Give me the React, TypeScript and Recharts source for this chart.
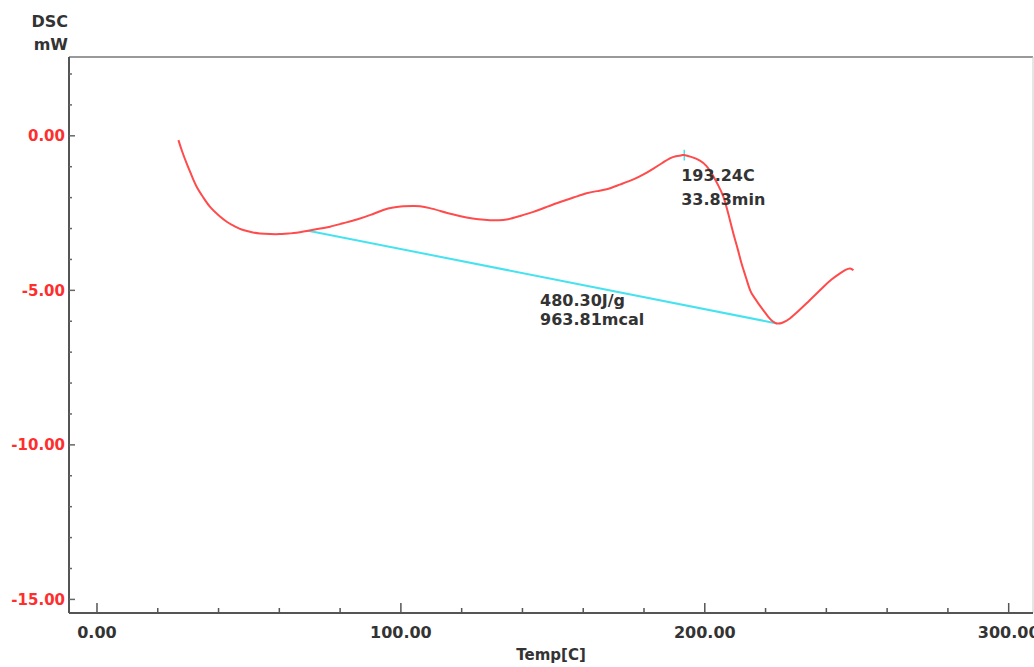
import React from "react";
import {
  LineChart,
  Line,
  XAxis,
  YAxis,
  ReferenceLine,
  ReferenceDot,
} from "recharts";

// ---- data ----
const temps = [
  26.8, 28.0, 29.5, 31.0, 32.8, 35.0, 37.2, 40.0, 42.7, 45.5, 48.1, 51.0, 53.6,
  57.0, 60.2, 63.0, 65.7, 69.5, 73.0, 76.7, 81.0, 85.5, 90.0, 94.2, 97.5, 100.8,
  104.0, 106.3, 109.5, 112.9, 117.0, 121.6, 125.5, 129.3, 132.0, 134.8, 139.0,
  143.6, 148.0, 152.4, 157.0, 161.1, 164.5, 167.7, 172.0, 176.5, 180.0, 183.1,
  186.0, 188.5, 190.5, 192.4, 193.24, 195.5, 198.4, 200.5, 202.3, 204.3, 206.1,
  207.8, 209.4, 210.8, 212.1, 213.5, 214.9, 216.2, 217.6, 219.3, 220.9, 222.3,
  223.7, 225.5, 228.0, 230.7, 233.5, 236.3, 239.0, 241.7, 244.5, 246.3, 247.8,
  248.9,
];
const dsc = [
  -0.14, -0.5, -0.89, -1.25, -1.65, -2.0, -2.3, -2.57, -2.78, -2.94, -3.05,
  -3.12, -3.16, -3.18, -3.18, -3.16, -3.14, -3.07, -3.01, -2.94, -2.83, -2.71,
  -2.56, -2.4, -2.32, -2.28, -2.27, -2.28, -2.34, -2.43, -2.54, -2.64, -2.7,
  -2.73, -2.73, -2.71, -2.6, -2.46, -2.3, -2.14, -1.99, -1.86, -1.79, -1.73,
  -1.58, -1.41, -1.24, -1.06, -0.88, -0.73, -0.66, -0.63, -0.62, -0.68, -0.8,
  -0.97, -1.22, -1.58, -1.97, -2.55, -3.16, -3.65, -4.13, -4.57, -4.99, -5.22,
  -5.42, -5.65, -5.86, -6.0, -6.07, -6.05, -5.91, -5.68, -5.42, -5.15, -4.89,
  -4.65, -4.45, -4.34, -4.29, -4.35,
];
const baselineStart = { t: 69.5, v: -3.07 };
const baselineEnd = { t: 223.7, v: -6.07 };
const peak = { t: 193.24, v: -0.62, markTop: -0.45, markBottom: -0.8 };
const peakLabels = ["193.24C", "33.83min"];
const energyLabels = ["480.30J/g", "963.81mcal"];
const energyAnchor = { t: 145.8, v: -5.51 };

const xTicks = [0, 20, 40, 60, 80, 100, 120, 140, 160, 180, 200, 220, 240, 260, 280, 300];
const yTicks = [-15, -14, -13, -12, -11, -10, -9, -8, -7, -6, -5, -4, -3, -2, -1, 0, 1, 2];
const X_MIN = -9.21;
const X_MAX = 308.0;
const Y_MIN = -15.44;
const Y_MAX = 2.55;

const data = temps.map((t, i) => ({ t, v: dsc[i] }));

const FONT = "DejaVu Sans";

const YTick = (props: any) => {
  const { x, y, payload } = props;
  const v = payload.value;
  const major = v % 5 === 0;
  return (
    <g>
      <line x1={x} y1={y} x2={x + (major ? 6 : 3)} y2={y} stroke="#666" strokeWidth={1.5} />
      {major && (
        <text
          x={x - 4}
          y={y + 5.5}
          textAnchor="end"
          fill="#ff2e2e"
          fontFamily={FONT}
          fontWeight="bold"
          fontSize={15}
        >
          {v.toFixed(2)}
        </text>
      )}
    </g>
  );
};

const XTick = (props: any) => {
  const { x, y, payload } = props;
  const v = payload.value;
  const major = v % 100 === 0;
  return (
    <g>
      <line x1={x} y1={y} x2={x} y2={y - (major ? 10 : 5)} stroke="#555" strokeWidth={1.5} />
      {major && (
        <text
          x={x}
          y={y + 25}
          textAnchor="middle"
          fill="#333"
          fontFamily={FONT}
          fontWeight="bold"
          fontSize={16}
        >
          {v.toFixed(2)}
        </text>
      )}
    </g>
  );
};

const YLabel = (props: any) => {
  const vb = props.viewBox || {};
  const rx = (vb.x || 0) + (vb.width || 0) - 1;
  const ty = vb.y || 0;
  return (
    <g>
      <text x={rx} y={ty - 30} textAnchor="end" fill="#333" fontFamily={FONT} fontWeight="bold" fontSize={16}>
        DSC
      </text>
      <text x={rx} y={ty - 7} textAnchor="end" fill="#333" fontFamily={FONT} fontWeight="bold" fontSize={16}>
        mW
      </text>
    </g>
  );
};

const PeakLabel = (props: any) => {
  const vb = props.viewBox || {};
  const cx = vb.x || 0;
  const cy = vb.y || 0;
  return (
    <g>
      {peakLabels.map((s, i) => (
        <text
          key={s}
          x={cx - 3}
          y={cy + 26 + i * 24}
          fill="#333"
          fontFamily={FONT}
          fontWeight="bold"
          fontSize={16}
        >
          {s}
        </text>
      ))}
    </g>
  );
};

const EnergyLabel = (props: any) => {
  const vb = props.viewBox || {};
  const cx = vb.x || 0;
  const cy = vb.y || 0;
  return (
    <g>
      {energyLabels.map((s, i) => (
        <text
          key={s}
          x={cx}
          y={cy + i * 19}
          fill="#333"
          fontFamily={FONT}
          fontWeight="bold"
          fontSize={16}
        >
          {s}
        </text>
      ))}
    </g>
  );
};

export default function App() {
  return (
    <div style={{ width: 1034, height: 667, background: "#fff" }}>
      <style>{`body{margin:0;background:#fff}`}</style>
      <LineChart
        width={1034}
        height={667}
        data={data}
        margin={{ top: 57, right: 1, bottom: 0, left: 0 }}
      >
        <XAxis
          dataKey="t"
          type="number"
          domain={[X_MIN, X_MAX]}
          allowDataOverflow
          ticks={xTicks}
          interval={0}
          tickSize={0}
          tickMargin={0}
          tickLine={false}
          tick={<XTick />}
          height={54}
          axisLine={{ stroke: "#555", strokeWidth: 2 }}
          label={{
            value: "Temp[C]",
            position: "insideBottom",
            offset: 7,
            fill: "#333",
            fontFamily: FONT,
            fontWeight: "bold",
            fontSize: 15,
          }}
        />
        <YAxis
          type="number"
          domain={[Y_MIN, Y_MAX]}
          allowDataOverflow
          ticks={yTicks}
          interval={0}
          tickSize={0}
          tickMargin={0}
          tickLine={false}
          tick={<YTick />}
          width={69}
          axisLine={{ stroke: "#555", strokeWidth: 2 }}
          label={<YLabel />}
        />
        <ReferenceLine y={Y_MAX} stroke="#999" strokeWidth={2} />
        <ReferenceLine x={X_MAX} stroke="#ccc" strokeWidth={1} />
        <ReferenceLine
          segment={[
            { x: baselineStart.t, y: baselineStart.v },
            { x: baselineEnd.t, y: baselineEnd.v },
          ]}
          stroke="#45e3ef"
          strokeWidth={2}
        />
        <ReferenceLine
          segment={[
            { x: peak.t, y: peak.markTop },
            { x: peak.t, y: peak.markBottom },
          ]}
          stroke="#45e3ef"
          strokeWidth={1.5}
        />
        <Line
          dataKey="v"
          type="natural"
          stroke="#ff4b4b"
          strokeWidth={2}
          dot={false}
          activeDot={false}
          isAnimationActive={false}
        />
        <ReferenceDot x={peak.t} y={peak.v} r={0} stroke="none" fill="none" label={<PeakLabel />} />
        <ReferenceDot
          x={energyAnchor.t}
          y={energyAnchor.v}
          r={0}
          stroke="none"
          fill="none"
          label={<EnergyLabel />}
        />
      </LineChart>
    </div>
  );
}
